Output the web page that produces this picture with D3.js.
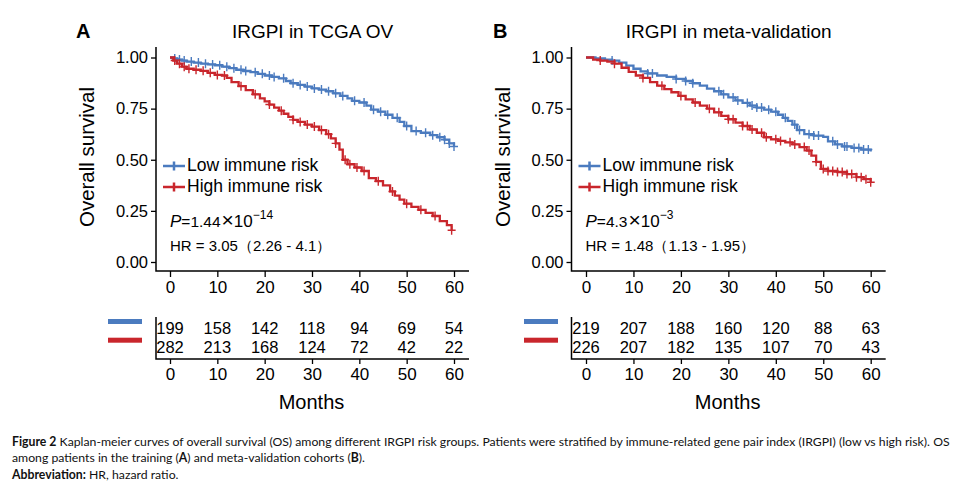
<!DOCTYPE html>
<html>
<head>
<meta charset="utf-8">
<script src="https://cdn.jsdelivr.net/npm/d3@7"></script>
<style>
  body { margin: 0; background: #fff; }
  svg { display: block; font-family: "Liberation Sans", Arial, sans-serif; }
</style>
</head>
<body>
<svg id="chart" width="964" height="489"></svg>
<script>
const months = [0, 10, 20, 30, 40, 50, 60];
const survTicks = [0, 0.25, 0.5, 0.75, 1];

// TCGA OV (panel A)
const tcgaLowTime = [0, 0.8, 1.5, 2.5, 3.5, 5, 6.5, 8, 9.5, 11, 12.5, 14, 15.5, 17, 18.5, 20, 21.5, 23, 24.5, 25.5, 27, 28.5, 30, 31.5, 33, 34.5, 36, 37.5, 38.5, 40, 41.5, 42.5, 44, 45.5, 47, 48.5, 49.5, 51, 53, 55, 56.5, 58, 59, 60];
const tcgaLowSurv = [1, 0.995, 0.99, 0.985, 0.98, 0.975, 0.97, 0.966, 0.962, 0.955, 0.948, 0.94, 0.934, 0.928, 0.92, 0.912, 0.905, 0.898, 0.885, 0.874, 0.866, 0.858, 0.849, 0.843, 0.835, 0.825, 0.812, 0.8, 0.788, 0.78, 0.765, 0.745, 0.735, 0.72, 0.705, 0.685, 0.665, 0.64, 0.632, 0.62, 0.61, 0.598, 0.58, 0.565];
const tcgaLowCensor = [1, 2, 3, 4.5, 6, 7.5, 9, 10.5, 12, 13.5, 15, 16, 18, 19.5, 21, 22, 24, 26, 27.5, 29, 30.5, 32, 33.5, 35, 36.5, 39, 41, 43, 44.5, 46, 48, 50, 52, 54, 55.5, 57, 58, 59, 60];

const tcgaHighTime = [0, 0.7, 1.5, 2.5, 3.5, 5, 6.5, 8, 9.5, 11, 12, 13, 14.5, 16, 17.5, 19, 20, 21, 22, 23, 24, 25, 26, 27, 28.5, 30, 31.5, 33, 34, 35, 35.8, 36.5, 37.5, 39, 40.5, 42, 43.5, 45, 46.5, 47.5, 48.5, 49.5, 51, 52.5, 54, 55.5, 57, 58.5, 59.5];
const tcgaHighSurv = [1, 0.985, 0.97, 0.955, 0.945, 0.94, 0.935, 0.925, 0.915, 0.912, 0.9, 0.88, 0.86, 0.84, 0.82, 0.8, 0.785, 0.77, 0.755, 0.74, 0.725, 0.71, 0.695, 0.685, 0.672, 0.662, 0.645, 0.625, 0.605, 0.58, 0.55, 0.5, 0.478, 0.462, 0.445, 0.41, 0.395, 0.375, 0.345, 0.325, 0.305, 0.285, 0.27, 0.255, 0.24, 0.225, 0.2, 0.18, 0.155];
const tcgaHighCensor = [1, 2, 3, 4, 5.5, 7, 8.5, 10, 11.5, 15, 18, 21, 23.5, 26, 27.5, 29, 30.5, 32, 33.5, 35, 37, 38, 39.5, 41, 44, 47, 50, 53, 56, 59.5];

// meta-validation (panel B)
const metaLowTime = [0, 2, 4, 5.5, 7, 8.5, 10, 11.5, 13, 15, 17, 19, 21, 22.5, 24, 25.5, 27, 28.5, 30, 31.5, 33, 34.5, 36, 37.5, 39, 40.5, 41.5, 42.5, 43.5, 44.5, 46, 48, 50, 51, 52.5, 54, 56, 58, 60];
const metaLowSurv = [1, 0.995, 0.99, 0.985, 0.975, 0.96, 0.945, 0.932, 0.922, 0.912, 0.905, 0.895, 0.885, 0.874, 0.862, 0.848, 0.835, 0.82, 0.805, 0.79, 0.778, 0.765, 0.755, 0.745, 0.735, 0.72, 0.705, 0.69, 0.672, 0.645, 0.625, 0.618, 0.612, 0.59, 0.575, 0.565, 0.558, 0.55, 0.54];
const metaLowCensor = [5.5, 13, 14, 19, 21, 22.5, 28, 29, 31, 32, 34, 35, 36, 37, 38.5, 40, 42, 44, 45, 47, 48, 49, 52, 53, 54.5, 55, 56.5, 57.5, 58.5, 59.5];

const metaHighTime = [0, 1.5, 3, 4.5, 6, 7.5, 9, 10.5, 12, 13.5, 15, 16.5, 18, 19.5, 21, 22.5, 24, 25.5, 27, 28.5, 30, 31.5, 33, 34.5, 36, 37.5, 39, 40.5, 42, 43.5, 45, 46.5, 47.5, 48.5, 49.5, 51, 53, 55, 57, 58.5, 60];
const metaHighSurv = [1, 0.99, 0.985, 0.98, 0.97, 0.95, 0.93, 0.912, 0.9, 0.88, 0.862, 0.845, 0.83, 0.812, 0.795, 0.78, 0.765, 0.75, 0.732, 0.715, 0.698, 0.682, 0.665, 0.648, 0.632, 0.61, 0.6, 0.592, 0.585, 0.575, 0.562, 0.545, 0.52, 0.49, 0.455, 0.445, 0.44, 0.43, 0.415, 0.405, 0.39];
const metaHighCensor = [3, 6, 12, 16, 20, 23, 26, 28, 30, 31, 33, 34, 35, 37, 38, 40, 41, 43, 44, 46, 47, 48.5, 50, 51, 52, 53, 54, 55, 56, 57, 58, 59, 60];

// numbers at risk
const tcgaAtRiskLow = [199, 158, 142, 118, 94, 69, 54];
const tcgaAtRiskHigh = [282, 213, 168, 124, 72, 42, 22];
const metaAtRiskLow = [219, 207, 188, 160, 120, 88, 63];
const metaAtRiskHigh = [226, 207, 182, 135, 107, 70, 43];

const legendLabels = ["Low immune risk", "High immune risk"];
const blue = "#4b7bbf";
const red = "#c9262c";

const svg = d3.select("#chart");
svg.append("rect").attr("width", 964).attr("height", 489).attr("fill", "#fff");

const y = d3.scaleLinear().domain([0, 1]).range([262, 57.5]);

const survAt = (times, surv, t) => {
    const i = d3.bisectRight(times, t) - 1;
    return surv[Math.max(i, 0)];
};

const drawPanel = (p) => {
    const x = d3.scaleLinear().domain([0, 60]).range(p.range);
    const left = p.axisX;
    const right = x(60) + 15;
    const g = svg.append("g");

    // panel letter + title
    g.append("text").attr("x", p.letterX).attr("y", 38)
        .attr("font-size", 20).attr("font-weight", "bold").text(p.letter);
    g.append("text").attr("x", (left + right) / 2).attr("y", 38)
        .attr("text-anchor", "middle").attr("font-size", 19).text(p.title);

    // y axis
    const ya = g.append("g").attr("transform", `translate(${left},0)`)
        .call(d3.axisLeft(y).tickValues(survTicks).tickFormat(d3.format(".2f")).tickSize(5).tickPadding(3));
    ya.select(".domain").remove();
    ya.selectAll("text").attr("font-size", 16.5).attr("font-family", "Liberation Sans, Arial");
    ya.selectAll("line").attr("stroke-width", 1.3);

    // x axis
    const xa = g.append("g").attr("transform", "translate(0,271)")
        .call(d3.axisBottom(x).tickValues(months).tickSize(6).tickPadding(4));
    xa.select(".domain").remove();
    xa.selectAll("text").attr("font-size", 17).attr("font-family", "Liberation Sans, Arial");
    xa.selectAll("line").attr("stroke-width", 1.3);

    g.append("path").attr("d", `M${left},47V271H${right}`)
        .attr("fill", "none").attr("stroke", "#000").attr("stroke-width", 1.5);

    g.append("text").attr("transform", `translate(${left - 67},157) rotate(-90)`)
        .attr("text-anchor", "middle").attr("dominant-baseline", "middle")
        .attr("font-size", 20.5).text("Overall survival");

    // curves
    const line = d3.line().x(d => x(d[0])).y(d => y(d[1])).curve(d3.curveStepAfter);
    p.series.forEach(s => {
        g.append("path").datum(d3.zip(s.time, s.surv))
            .attr("d", line).attr("fill", "none")
            .attr("stroke", s.color).attr("stroke-width", 2.3);
        g.append("g").selectAll("path").data(s.censor).join("path")
            .attr("d", t => {
                const cx = x(t), cy = y(survAt(s.time, s.surv, t));
                return `M${cx - 4},${cy}h8M${cx},${cy - 4.5}v9`;
            })
            .attr("stroke", s.color).attr("stroke-width", 1.4);
    });

    // legend
    const lx = left + 7;
    p.series.forEach((s, i) => {
        const ly = 166 + i * 21;
        g.append("path").attr("d", `M${lx},${ly}h22M${lx + 11},${ly - 4.5}v9`)
            .attr("stroke", s.color).attr("stroke-width", 2.5);
        g.append("text").attr("x", lx + 24).attr("y", ly).attr("dominant-baseline", "middle")
            .attr("font-size", 17.5).text(legendLabels[i]);
    });

    // statistics
    const pt = g.append("text").attr("x", left + 14).attr("y", 227).attr("font-size", 15.5);
    pt.append("tspan").attr("font-style", "italic").attr("font-size", 17).text("P");
    pt.append("tspan").text("=" + p.pval);
    pt.append("tspan").attr("font-size", 21).attr("dx", 1).text("×");
    pt.append("tspan").attr("font-size", 17).text("10");
    pt.append("tspan").attr("font-size", 12).attr("dy", -8).text("−" + p.pexp);

    g.append("text").attr("x", left + 14).attr("y", 251).attr("font-size", 15)
        .text(`HR = ${p.hr}（${p.ci}）`);

    // risk table
    g.append("path").attr("d", `M${left},317V359H${right}`)
        .attr("fill", "none").attr("stroke", "#000").attr("stroke-width", 1.5);
    const ra = g.append("g").attr("transform", "translate(0,359)")
        .call(d3.axisBottom(x).tickValues(months).tickSize(5).tickPadding(4));
    ra.select(".domain").remove();
    ra.selectAll("text").attr("font-size", 17).attr("font-family", "Liberation Sans, Arial");
    ra.selectAll("line").attr("stroke-width", 1.3);

    p.atRisk.forEach((row, i) => {
        const ry = 329.5 + i * 19;
        g.append("rect").attr("x", p.barX).attr("y", 319 + i * 18.7).attr("width", 34).attr("height", 5)
            .attr("fill", p.series[i].color);
        g.append("g").selectAll("text").data(row).join("text")
            .attr("x", (d, j) => x(months[j])).attr("y", ry)
            .attr("text-anchor", "middle").attr("dominant-baseline", "middle")
            .attr("font-size", 16.5).text(d => d);
    });

    g.append("text").attr("x", (left + right) / 2 - 1).attr("y", 404)
        .attr("text-anchor", "middle").attr("dominant-baseline", "middle")
        .attr("font-size", 20).text("Months");
};

drawPanel({
    letter: "A", letterX: 76, title: "IRGPI in TCGA OV",
    axisX: 156, range: [170, 454], barX: 108,
    pval: "1.44", pexp: "14", hr: "3.05", ci: "2.26 - 4.1",
    series: [
        { time: tcgaLowTime, surv: tcgaLowSurv, censor: tcgaLowCensor, color: blue },
        { time: tcgaHighTime, surv: tcgaHighSurv, censor: tcgaHighCensor, color: red }
    ],
    atRisk: [tcgaAtRiskLow, tcgaAtRiskHigh]
});

drawPanel({
    letter: "B", letterX: 493, title: "IRGPI in meta-validation",
    axisX: 571.5, range: [586, 870.7], barX: 524,
    pval: "4.3", pexp: "3", hr: "1.48", ci: "1.13 - 1.95",
    series: [
        { time: metaLowTime, surv: metaLowSurv, censor: metaLowCensor, color: blue },
        { time: metaHighTime, surv: metaHighSurv, censor: metaHighCensor, color: red }
    ],
    atRisk: [metaAtRiskLow, metaAtRiskHigh]
});

// caption
const cap = svg.append("g").attr("font-family", "Lato, 'Open Sans', sans-serif").attr("font-size", 12.25).attr("fill", "#111");
const c1 = cap.append("text").attr("x", 12).attr("y", 446);
c1.append("tspan").attr("font-weight", "bold").text("Figure 2");
c1.append("tspan").text(" Kaplan-meier curves of overall survival (OS) among different IRGPI risk groups. Patients were stratified by immune-related gene pair index (IRGPI) (low vs high risk). OS");
const c2 = cap.append("text").attr("x", 12).attr("y", 462);
c2.append("tspan").text("among patients in the training (");
c2.append("tspan").attr("font-weight", "bold").text("A");
c2.append("tspan").text(") and meta-validation cohorts (");
c2.append("tspan").attr("font-weight", "bold").text("B");
c2.append("tspan").text(").");
const c3 = cap.append("text").attr("x", 12).attr("y", 479);
c3.append("tspan").attr("font-weight", "bold").text("Abbreviation:");
c3.append("tspan").text(" HR, hazard ratio.");
</script>
</body>
</html>
